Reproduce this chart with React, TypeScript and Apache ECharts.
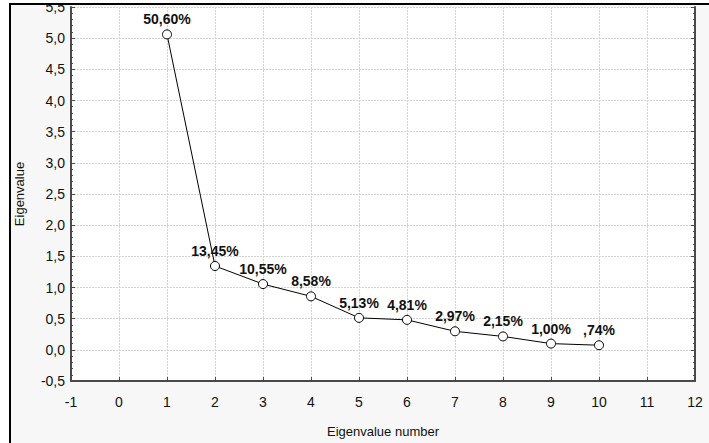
import React, { useEffect, useRef } from "react";
import * as echarts from "echarts";

const eigenNumbers = [1, 2, 3, 4, 5, 6, 7, 8, 9, 10];
const eigenValues = [5.06, 1.345, 1.055, 0.858, 0.513, 0.481, 0.297, 0.215, 0.1, 0.074];
const percentLabels = ["50,60%", "13,45%", "10,55%", "8,58%", "5,13%", "4,81%", "2,97%", "2,15%", "1,00%", ",74%"];

const FONT = "'Liberation Sans Narrow', 'Arial Narrow', 'Liberation Sans', Arial, sans-serif";

export default function App() {
  const ref = useRef<HTMLDivElement>(null);
  useEffect(() => {
    document.body.style.margin = "0";
    const chart = echarts.init(ref.current!, undefined, { renderer: "svg" });
    const fmtY = (v: number) => v.toFixed(1).replace(".", ",");
    const axisLine = { show: true, lineStyle: { color: "#4a4a4a", width: 2 } };
    chart.setOption({
      animation: false,
      textStyle: { fontFamily: FONT },
      grid: { left: 71, right: 14, top: 1, bottom: 60, show: true, backgroundColor: "#ffffff", borderWidth: 0 },
      xAxis: {
        type: "value",
        min: -1,
        max: 12,
        interval: 1,
        name: "Eigenvalue number",
        nameLocation: "middle",
        nameGap: 44,
        nameTextStyle: { fontFamily: FONT, fontSize: 13, color: "#111" },
        axisLine: { ...axisLine, onZero: false },
        axisTick: { show: true, inside: true, length: 4, lineStyle: { color: "#4a4a4a" } },
        axisLabel: { fontFamily: FONT, fontSize: 14, color: "#111", margin: 14 },
        splitLine: { show: true, lineStyle: { color: "#d2d2d2", type: [2, 1], width: 1 } },
      },
      yAxis: [
        {
          type: "value",
          min: -0.5,
          max: 5.5,
          interval: 0.5,
          name: "Eigenvalue",
          nameLocation: "middle",
          nameGap: 45,
          nameTextStyle: { fontFamily: FONT, fontSize: 13, color: "#111" },
          axisLine: { ...axisLine, onZero: false },
          axisTick: { show: true, inside: true, length: 4, lineStyle: { color: "#4a4a4a" } },
          minorTick: { show: true, splitNumber: 5, length: 2, lineStyle: { color: "#4a4a4a" } },
          axisLabel: { fontFamily: FONT, fontSize: 14, color: "#111", margin: 6, formatter: fmtY },
          splitLine: { show: true, lineStyle: { color: "#d2d2d2", type: [2, 1], width: 1 } },
        },
        {
          type: "value",
          position: "right",
          min: -0.5,
          max: 5.5,
          interval: 0.5,
          axisLine: { ...axisLine, onZero: false },
          axisTick: { show: true, inside: true, length: 4, lineStyle: { color: "#4a4a4a" } },
          minorTick: { show: true, splitNumber: 5, length: 2, lineStyle: { color: "#4a4a4a" } },
          axisLabel: { show: false },
          splitLine: { show: false },
        },
      ],
      series: [
        {
          type: "line",
          data: eigenNumbers.map((n, i) => [n, eigenValues[i]]),
          symbol: "circle",
          symbolSize: 9,
          itemStyle: { color: "#ffffff", borderColor: "#000", borderWidth: 1 },
          lineStyle: { color: "#000", width: 1 },
          label: {
            show: true,
            position: "top",
            distance: 3,
            formatter: (p: any) => percentLabels[p.dataIndex],
            fontFamily: FONT,
            fontSize: 14,
            fontWeight: 600,
            color: "#111",
          },
        },
      ],
    });
    return () => chart.dispose();
  }, []);
  return (
    <div style={{ position: "absolute", left: 0, top: 0, width: 709, height: 443, background: "#ffffff", overflow: "hidden" }}>
      <div
        style={{
          position: "absolute",
          left: 9,
          top: 3,
          width: 710,
          height: 450,
          boxSizing: "border-box",
          borderLeft: "2px solid #000",
          borderTop: "2px solid #000",
          background: "#f7f7f7",
        }}
      />
      <div ref={ref} style={{ position: "absolute", left: 0, top: 0, width: 709, height: 443 }} />
      <div style={{ position: "absolute", left: 0, top: 0, width: 709, height: 3, background: "#ffffff" }} />
      <div style={{ position: "absolute", left: 9, top: 3, width: 700, height: 2, background: "#000" }} />
    </div>
  );
}
